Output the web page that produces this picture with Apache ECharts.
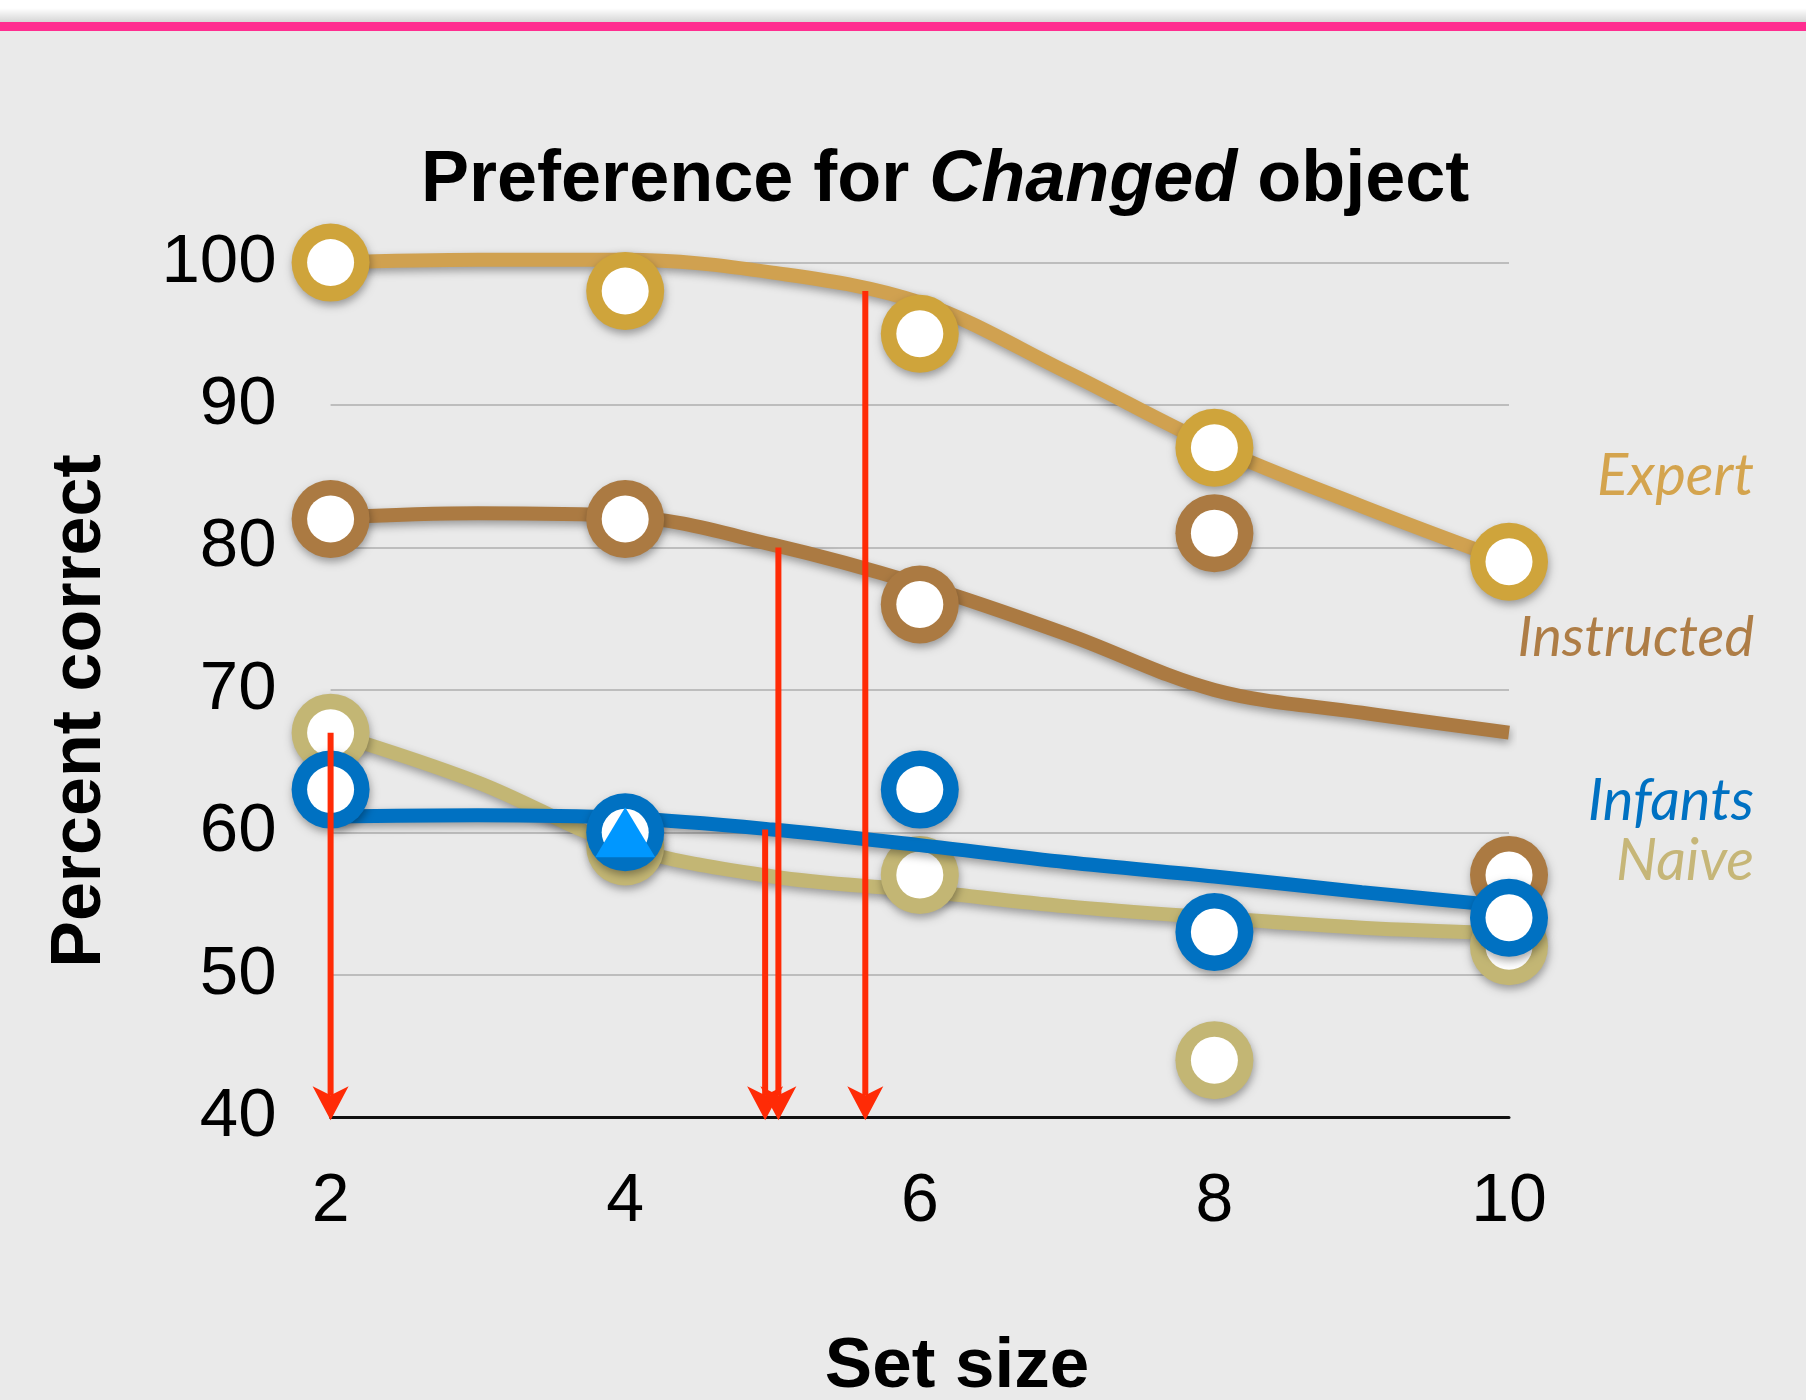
<!DOCTYPE html>
<html>
<head>
<meta charset="utf-8">
<script src="https://cdn.jsdelivr.net/npm/echarts@6/dist/echarts.min.js"></script>
<style>
  html, body { margin: 0; padding: 0; background: #EAEAEA; }
  #chart { width: 1806px; height: 1400px; }
</style>
</head>
<body>
<div id="chart"></div>
<script>
// Observed accuracy per group at each set size
const setSizes = [2, 4, 6, 8, 10];
const expertScores = [100, 98, 95, 87, 79];
const instructedScores = [82, 82, 76, 81, 57];
const naiveScores = [67, 59, 57, 44, 52];
const infantScores = [63, 60, 63, 53, 54];

// Fitted curves, sampled at each integer set size
const fitSizes = [2, 3, 4, 5, 6, 7, 8, 9, 10];
const expertFit = [100, 100.2, 100.2, 99.3, 97.2, 92.3, 87.1, 82.9, 79.0];
const instructedFit = [82.1, 82.4, 82.2, 80.2, 77.4, 73.9, 70.0, 68.4, 67.0];
const naiveFit = [67.0, 63.5, 59.0, 56.9, 55.9, 54.8, 54.0, 53.3, 52.9];
const infantFit = [61.1, 61.2, 61.0, 60.2, 59.1, 57.9, 56.9, 55.8, 54.8];

// Infant point flagged with a triangle
const flaggedSize = [4];
const flaggedScore = [60];

// Capacity estimates: set size where each drop arrow sits, and the curve value it starts from
const capacitySizes = [2, 4.95, 5.04, 5.63];
const capacityFrom = [67, 60.2, 80, 98];

// Axis ranges
const yMin = 40, yMax = 100, yStep = 10;
const xMin = 2, xMax = 10, xStep = 2;

const COLORS = {
  expertRing: '#CFA43B', expertLine: '#D0A150', expertText: '#D4A44E',
  instructed: '#AB7A42', instructedText: '#AE7D46',
  naive: '#C3B674', naiveText: '#C6B678',
  infants: '#0071C2', flag: '#0097FF',
  arrow: '#FF2B06'
};

const pair = (xs, ys) => xs.map((x, i) => [x, ys[i]]);

const shadow = { shadowColor: 'rgba(0,0,0,0.35)', shadowBlur: 8, shadowOffsetX: 1, shadowOffsetY: 4 };

function fitLine(name, data, color, z) {
  return {
    name, type: 'line', data, z, smooth: 0.35, showSymbol: false, symbol: 'none',
    clip: false, silent: true,
    lineStyle: Object.assign({ color, width: 14, cap: 'butt', opacity: 1 }, shadow)
  };
}

// Ring marker: a coloured disc with a white disc on top
function ringMarkers(name, data, color, z) {
  return [
    {
      name, type: 'scatter', data, z, symbol: 'circle', symbolSize: 78, clip: false, silent: true,
      itemStyle: Object.assign({ color, opacity: 1 }, shadow)
    },
    {
      name: name + ' centre', type: 'scatter', data, z: z + 1, symbol: 'circle', symbolSize: 47, clip: false, silent: true,
      itemStyle: { color: '#FFFFFF', opacity: 1 }
    }
  ];
}

// Drop arrows from a curve down to the set-size axis
function renderArrow(params, api) {
  const top = api.coord([api.value(0), api.value(1)]);
  const bottom = api.coord([api.value(0), yMin]);
  const tipY = bottom[1] + 3;
  const headH = 34, headW = 36, notch = 9;
  return {
    type: 'group',
    children: [
      { type: 'line', shape: { x1: top[0], y1: top[1], x2: bottom[0], y2: tipY - headH + notch },
        style: { stroke: COLORS.arrow, lineWidth: 6 } },
      { type: 'polygon', shape: { points: [
          [bottom[0], tipY],
          [bottom[0] - headW / 2, tipY - headH],
          [bottom[0], tipY - headH + notch],
          [bottom[0] + headW / 2, tipY - headH]
        ] }, style: { fill: COLORS.arrow } }
    ]
  };
}

const chart = echarts.init(document.getElementById('chart'), null, { renderer: 'canvas' });

const labelFont = 'italic 58px Lato, "Open Sans", sans-serif';

const option = {
  animation: false,
  backgroundColor: '#EAEAEA',
  title: {
    left: 421, top: 144, padding: 0,
    text: '{n|Preference for }{i|Changed}{n| object}',
    textStyle: {
      rich: {
        n: { fontFamily: 'Liberation Sans, Arial, sans-serif', fontWeight: 'bold', fontSize: 72, lineHeight: 74, color: '#000' },
        i: { fontFamily: 'Liberation Sans, Arial, sans-serif', fontWeight: 'bold', fontStyle: 'italic', fontSize: 72, lineHeight: 74, color: '#000' }
      }
    }
  },
  grid: { left: 330.6, right: 297, top: 262.6, bottom: 282.8, containLabel: false },
  xAxis: {
    type: 'value', min: xMin, max: xMax, interval: xStep, z: 1,
    axisLine: { show: true, onZero: false, lineStyle: { color: '#111', width: 3 } },
    axisTick: { show: false },
    splitLine: { show: false },
    axisLabel: { fontFamily: 'Liberation Sans, Arial, sans-serif', fontSize: 68, color: '#000', margin: 51 }
  },
  yAxis: {
    type: 'value', min: yMin, max: yMax, interval: yStep, z: 0,
    axisLine: { show: false }, axisTick: { show: false },
    splitLine: { show: true, lineStyle: { color: '#BDBDBD', width: 2 } },
    axisLabel: { fontFamily: 'Liberation Sans, Arial, sans-serif', fontSize: 69, color: '#000', margin: 54 }
  },
  graphic: [
    { type: 'rect', shape: { x: 0, y: 0, width: 1806, height: 22 }, style: { fill: '#FFFFFF' }, silent: true },
    { type: 'rect', shape: { x: 0, y: 8, width: 1806, height: 14 }, silent: true,
      style: { fill: new echarts.graphic.LinearGradient(0, 0, 0, 1, [
        { offset: 0, color: 'rgba(0,0,0,0)' }, { offset: 1, color: 'rgba(0,0,0,0.16)' }]) } },
    { type: 'rect', shape: { x: 0, y: 22, width: 1806, height: 9 }, style: { fill: '#FF2D90' }, silent: true },
    { type: 'text', x: 957, y: 1367, silent: true,
      style: { text: 'Set size', font: 'bold 71px "Liberation Sans", Arial, sans-serif', fill: '#000', align: 'center', verticalAlign: 'middle' } },
    { type: 'text', x: 81, y: 711, rotation: Math.PI / 2, silent: true,
      style: { text: 'Percent correct', font: 'bold 70px "Liberation Sans", Arial, sans-serif', fill: '#000', align: 'center', verticalAlign: 'middle' } },
    { type: 'text', x: 1754, y: 476, silent: true,
      style: { text: 'Expert', font: labelFont, fill: COLORS.expertText, align: 'right', verticalAlign: 'middle' } },
    { type: 'text', x: 1754, y: 638, silent: true,
      style: { text: 'Instructed', font: 'italic 56px Lato, "Open Sans", sans-serif', fill: COLORS.instructedText, align: 'right', verticalAlign: 'middle' } },
    { type: 'text', x: 1754, y: 801, silent: true,
      style: { text: 'Infants', font: labelFont, fill: COLORS.infants, align: 'right', verticalAlign: 'middle' } },
    { type: 'text', x: 1754, y: 861, silent: true,
      style: { text: 'Naive', font: labelFont, fill: COLORS.naiveText, align: 'right', verticalAlign: 'middle' } }
  ],
  series: [
    fitLine('Expert fit', pair(fitSizes, expertFit), COLORS.expertLine, 2),
    fitLine('Instructed fit', pair(fitSizes, instructedFit), COLORS.instructed, 2),
    fitLine('Naive fit', pair(fitSizes, naiveFit), COLORS.naive, 2),
    ...ringMarkers('Expert', pair(setSizes, expertScores), COLORS.expertRing, 3),
    ...ringMarkers('Instructed', pair(setSizes, instructedScores), COLORS.instructed, 3),
    ...ringMarkers('Naive', pair(setSizes, naiveScores), COLORS.naive, 3),
    fitLine('Infants fit', pair(fitSizes, infantFit), COLORS.infants, 5),
    ...ringMarkers('Infants', pair(setSizes, infantScores), COLORS.infants, 6),
    {
      name: 'Flagged', type: 'scatter', data: pair(flaggedSize, flaggedScore), z: 8, clip: false, silent: true,
      symbol: 'triangle', symbolSize: [60, 50], itemStyle: { color: COLORS.flag, opacity: 1 }
    },
    {
      name: 'Capacity', type: 'custom', data: pair(capacitySizes, capacityFrom), z: 10, silent: true, clip: false,
      renderItem: renderArrow
    }
  ]
};

chart.setOption(option);
</script>
</body>
</html>
